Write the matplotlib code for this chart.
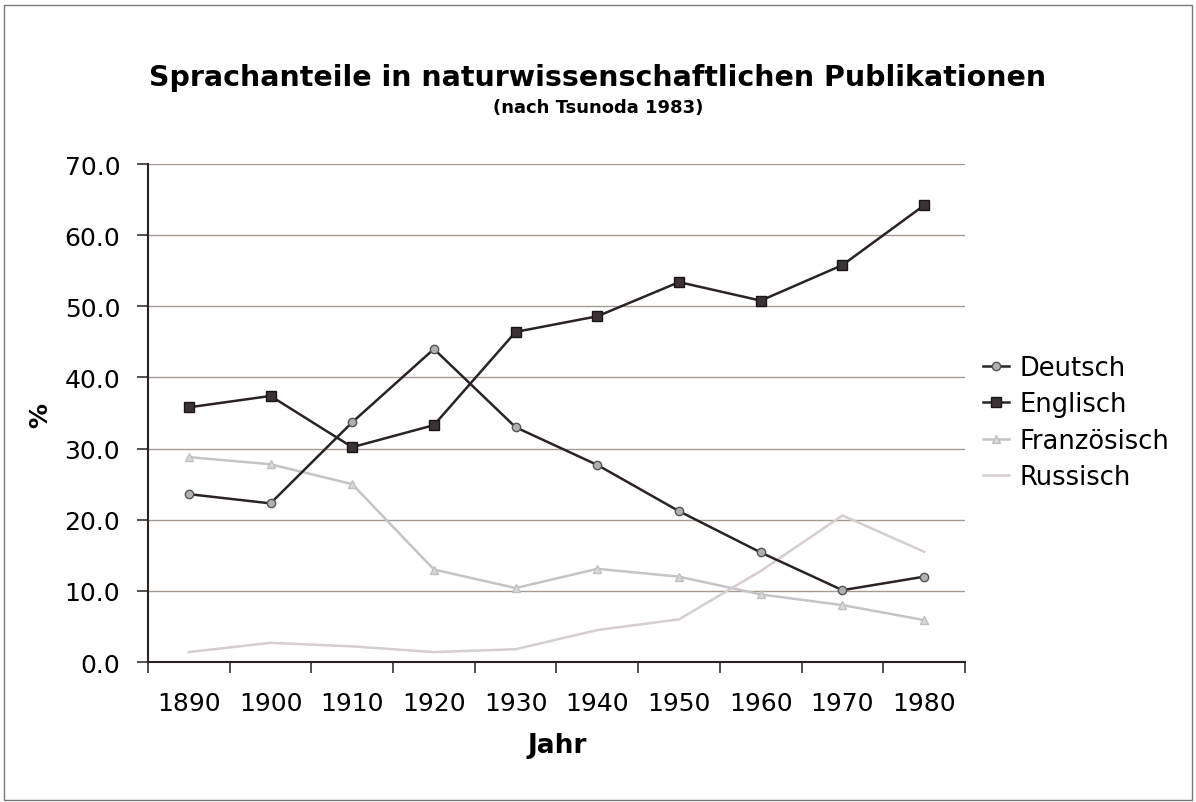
import matplotlib.pyplot as plt
from matplotlib.patches import Rectangle
from matplotlib.ticker import FixedLocator

years = ['1890', '1900', '1910', '1920', '1930', '1940', '1950', '1960', '1970', '1980']
deutsch = [23.6, 22.3, 33.7, 44.0, 33.0, 27.7, 21.2, 15.4, 10.1, 12.0]
englisch = [35.8, 37.4, 30.2, 33.3, 46.4, 48.6, 53.4, 50.8, 55.8, 64.2]
franzoesisch = [28.8, 27.8, 25.0, 13.0, 10.4, 13.1, 12.0, 9.5, 8.0, 5.9]
russisch = [1.4, 2.7, 2.2, 1.4, 1.8, 4.5, 6.0, 12.8, 20.6, 15.5]

plt.rcParams['font.family'] = 'DejaVu Sans'
fig = plt.figure(figsize=(11.96, 8.03), dpi=100)
ax = fig.add_axes([0.1237, 0.1743, 0.6832, 0.6202])

x = range(len(years))
ax.plot(x, deutsch, color='#2a2226', lw=1.8, marker='o', ms=6,
        mfc='#b0b0b0', mec='#555555', mew=1, label='Deutsch', zorder=4)
ax.plot(x, englisch, color='#2a2226', lw=1.8, marker='s', ms=7,
        mfc='#3a3234', mec='#1a1414', label='Englisch', zorder=4)
ax.plot(x, franzoesisch, color='#c4c4c8', lw=1.8, marker='^', ms=6,
        mfc='#d8d8d8', mec='#c0c0c0', label='Französisch', zorder=3)
ax.plot(x, russisch, color='#d6cdcd', lw=1.8, label='Russisch', zorder=3)

ax.set_xlim(-0.5, 9.5)
ax.set_ylim(0, 70)
ax.set_yticks(range(0, 71, 10))
ax.set_yticklabels(['%.1f' % v for v in range(0, 71, 10)], fontsize=18)
ax.xaxis.set_major_locator(FixedLocator([i - 0.5 for i in range(11)]))
ax.xaxis.set_minor_locator(FixedLocator(list(x)))
ax.set_xticklabels([], minor=False)
ax.set_xticklabels(years, minor=True, fontsize=18)
ax.tick_params(axis='x', which='major', length=8, width=1.2, color='#333333')
ax.tick_params(axis='x', which='minor', length=0, pad=21)
ax.tick_params(axis='y', length=8, width=1.2, color='#333333', pad=12)

ax.grid(axis='y', color='#a59a8e', lw=1)
ax.set_axisbelow(True)
for s in ['top', 'right']:
    ax.spines[s].set_visible(False)
for s in ['left', 'bottom']:
    ax.spines[s].set_color('#2a2226')
    ax.spines[s].set_linewidth(1.5)

fig.text(0.5, 0.903, 'Sprachanteile in naturwissenschaftlichen Publikationen',
         ha='center', va='center', fontsize=20.5, fontweight='bold')
fig.text(0.5, 0.866, '(nach Tsunoda 1983)', ha='center', va='center',
         fontsize=13, fontweight='bold')
fig.text(0.034, 0.483, '%', rotation=90, ha='center', va='center',
         fontsize=18, fontweight='bold')
fig.text(0.466, 0.071, 'Jahr', ha='center', va='center',
         fontsize=19, fontweight='bold')

ax.legend(loc='center left', bbox_to_anchor=(0.822, 0.4726), bbox_transform=fig.transFigure,
          frameon=False, fontsize=18.5, handlelength=1.0, handletextpad=0.4,
          labelspacing=0.39, borderaxespad=0, borderpad=0)

fig.patches.append(Rectangle((0.003, 0.003), 0.994, 0.99, transform=fig.transFigure,
                             fill=False, ec='#777777', lw=1))

fig.savefig('out.png', dpi=100, facecolor='white')
